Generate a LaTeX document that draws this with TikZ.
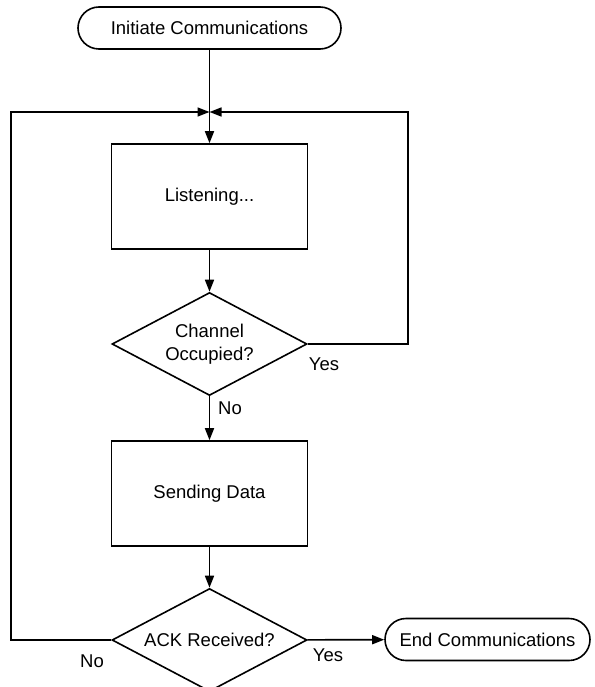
\documentclass[tikz,border=0pt]{standalone}
\usepackage{fontspec}
\setmainfont{Liberation Sans}
\usetikzlibrary{arrows.meta}
\usetikzlibrary{shapes.geometric}

\tikzset{
    flow/.style={line width=1.6pt, -{Triangle[length=12pt, width=9pt]}},
    term/.style={draw, line width=1.6pt, rectangle, rounded corners=21pt, minimum height=42pt, inner sep=0pt},
    procbox/.style={draw, line width=1.6pt, rectangle, minimum width=196pt, minimum height=105pt, inner sep=0pt},
    decide/.style={draw, line width=1.6pt, diamond, aspect=1.9, minimum width=195pt, minimum height=103pt, inner sep=0pt, align=center},
    lbl/.style={inner sep=0pt}
}

\begin{document}
\begin{tikzpicture}[x=1pt, y=-1pt, font=\fontsize{18.5}{22.5}\selectfont]
    \useasboundingbox (0,0) rectangle (594,687);

    \node[term, minimum width=263pt] (start) at (209.5,28) {Initiate Communications};
    \coordinate (join) at (209.5,112);
    \node[procbox] (listen) at (209.5,196.5) {Listening...};
    \node[decide] (chan) at (209.5,344) {Channel\\Occupied?};
    \node[procbox] (send) at (209.5,493.5) {Sending Data};
    \node[decide] (ack) at (209.5,640) {ACK Received?};
    \node[term, minimum width=205pt] (end) at (487.5,639.5) {End Communications};

    \draw[line width=1.6pt] (start) -- (join);
    \draw[flow] (join) -- (listen);
    \draw[flow] (listen) -- (chan);
    \draw[flow] (chan) -- (send);
    \draw[flow] (send) -- (ack);
    \draw[flow] (ack) -- (end);
    \draw[flow] (chan.east) -- ++(100,0) |- (join);
    \draw[flow] (ack.west) -- ++(-100,0) |- (join);

    \node[lbl] (yes1) at (324,364) {Yes};
    \node[lbl] (no1) at (230,408) {No};
    \node[lbl] (no2) at (92,661) {No};
    \node[lbl] (yes2) at (328,655) {Yes};
\end{tikzpicture}
\end{document}
